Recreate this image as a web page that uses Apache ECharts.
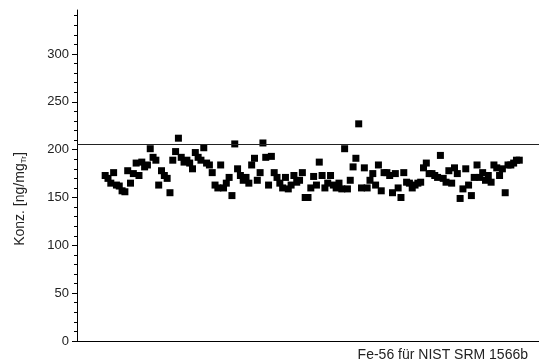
<!DOCTYPE html>
<html>
<head>
<meta charset="utf-8">
<title>Fe-56 NIST SRM 1566b</title>
<script src="https://cdn.jsdelivr.net/npm/echarts@6/dist/echarts.min.js"></script>
<style>
  html, body { margin: 0; padding: 0; background: #fff; }
  #chart { width: 539px; height: 360px; }
</style>
</head>
<body>
<div id="chart"></div>
<script>
// Konzentration pro Messung (ng/mg Tr)
var konz = [
  173,170,165,176,163,162,157,156,178,
  165,175,186,173,187,182,184,201,192,189,
  163,178,173,170,155,189,198,212,192,187,
  189,186,180,197,192,189,202,186,184,176,
  163,160,184,160,165,171,152,206,180,173,
  168,171,165,184,191,168,176,207,192,163,
  193,176,171,165,160,171,159,163,173,166,
  168,176,150,150,160,172,163,187,173,160,
  165,173,163,160,165,159,201,159,168,182,
  191,227,160,181,160,168,175,163,184,157,
  176,176,173,155,175,160,150,176,166,165,
  160,163,165,166,181,186,175,175,173,171,
  194,170,166,178,165,181,175,149,159,180,
  163,152,171,184,171,176,168,173,166,184,
  181,173,180,155,184,184,186,189,189
];
var grenzwert = 206;
var yLabels = [0, 50, 100, 150, 200, 250, 300];
var yMinor = [10,20,30,40,60,70,80,90,110,120,130,140,160,170,180,190,
              210,220,230,240,260,270,280,290,310,320,330,340];

var points = [];
for (var i = 0; i < konz.length; i++) {
  points.push([i + 1, konz[i]]);
}

var chart = echarts.init(document.getElementById('chart'));
var option = {
  animation: false,
  backgroundColor: '#fff',
  textStyle: { fontFamily: 'Liberation Sans, Arial, sans-serif' },
  grid: { left: 77, right: 0, top: 10, bottom: 19 },
  title: {
    text: 'Fe-56 für NIST SRM 1566b',
    right: 6,
    top: 343,
    textStyle: { fontSize: 14, fontWeight: 'normal', color: '#222', fontFamily: 'Liberation Sans, Arial, sans-serif' }
  },
  xAxis: {
    type: 'value',
    min: -9,
    max: 155,
    axisLine: { onZero: false, lineStyle: { color: '#000', width: 1 } },
    axisTick: { show: false },
    axisLabel: { show: false },
    splitLine: { show: false }
  },
  yAxis: [{
    type: 'value',
    min: 0,
    max: 346,
    axisLine: { show: true, onZero: false, lineStyle: { color: '#000', width: 1 } },
    axisTick: { show: true, length: 5, customValues: yLabels, lineStyle: { color: '#000' } },
    axisLabel: { customValues: yLabels, fontSize: 13, color: '#222', margin: 8 },
    splitLine: { show: false }
  }, {
    type: 'value',
    min: 0,
    max: 346,
    position: 'left',
    offset: 0,
    axisLine: { show: false, onZero: false },
    axisTick: { show: true, length: 3, customValues: yMinor, lineStyle: { color: '#000' } },
    axisLabel: { show: false },
    splitLine: { show: false }
  }],
  graphic: [{
    type: 'text',
    x: 20,
    y: 199,
    rotation: Math.PI / 2,
    style: {
      text: 'Konz. [ng/mg{sub|Tr}]',
      font: '14px Liberation Sans, Arial, sans-serif',
      fill: '#222',
      align: 'center',
      verticalAlign: 'middle',
      rich: {
        sub: { fontSize: 8, fill: '#222', verticalAlign: 'bottom', padding: [7, 0, 0, 0] }
      }
    }
  }],
  series: [{
    type: 'scatter',
    data: points,
    symbol: 'rect',
    symbolSize: 7,
    itemStyle: { color: '#000', opacity: 1 },
    markLine: {
      silent: true,
      symbol: ['none', 'none'],
      label: { show: false },
      lineStyle: { color: '#222', width: 1, type: 'solid' },
      data: [{ yAxis: grenzwert }]
    }
  }]
};
chart.setOption(option);
</script>
</body>
</html>
